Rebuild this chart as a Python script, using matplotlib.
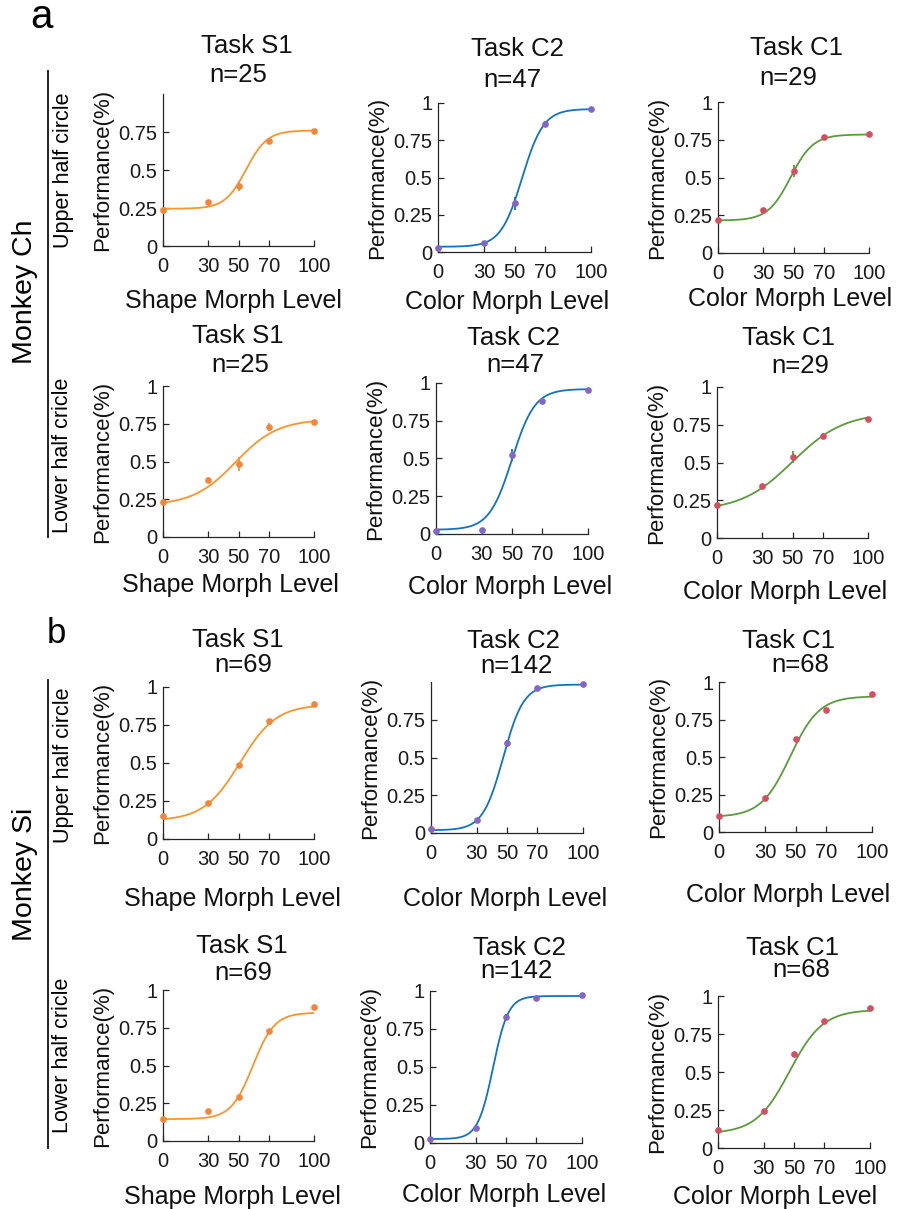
import numpy as np
import matplotlib
matplotlib.use('Agg')
import matplotlib.pyplot as plt
from matplotlib.lines import Line2D

plt.rcParams['font.family'] = ['Liberation Sans', 'DejaVu Sans']

# ---------------- data ----------------
levels = [0, 30, 50, 70, 100]
xtick_vals = [0, 30, 50, 70, 100]
xtick_labels = ['0', '30', '50', '70', '100']
ytick_vals = [0, 0.25, 0.5, 0.75, 1]
ytick_labels = ['0', '0.25', '0.5', '0.75', '1']

# Monkey Ch, upper half circle
ch_up_s1 = [0.235, 0.29, 0.395, 0.69, 0.757]
ch_up_s1_err = [0.008, 0.012, 0.035, 0.012, 0.008]
ch_up_s1_fit = [0.245, 0.76, 55, 7]          # lower, upper, threshold, width
ch_up_c2 = [0.027, 0.06, 0.327, 0.862, 0.958]
ch_up_c2_err = [0.005, 0.008, 0.045, 0.02, 0.005]
ch_up_c2_fit = [0.035, 0.96, 55, 7]
ch_up_c1 = [0.216, 0.285, 0.545, 0.77, 0.786]
ch_up_c1_err = [0.008, 0.012, 0.04, 0.01, 0.006]
ch_up_c1_fit = [0.215, 0.785, 48, 7.5]
# Monkey Ch, lower half circle
ch_lo_s1 = [0.232, 0.376, 0.482, 0.73, 0.763]
ch_lo_s1_err = [0.006, 0.02, 0.045, 0.025, 0.008]
ch_lo_s1_fit = [0.21, 0.78, 48, 14]
ch_lo_c2 = [0.022, 0.027, 0.524, 0.878, 0.951]
ch_lo_c2_err = [0.004, 0.004, 0.04, 0.02, 0.006]
ch_lo_c2_fit = [0.028, 0.96, 50, 7.5]
ch_lo_c1 = [0.22, 0.347, 0.538, 0.675, 0.787]
ch_lo_c1_err = [0.008, 0.01, 0.04, 0.02, 0.006]
ch_lo_c1_fit = [0.18, 0.83, 50, 17]
# Monkey Si, upper half circle
si_up_s1 = [0.154, 0.24, 0.484, 0.778, 0.888]
si_up_s1_err = [0.006, 0.008, 0.015, 0.01, 0.008]
si_up_s1_fit = [0.12, 0.885, 51, 12]
si_up_c2 = [0.026, 0.088, 0.596, 0.96, 0.987]
si_up_c2_err = [0.004, 0.008, 0.02, 0.006, 0.004]
si_up_c2_fit = [0.018, 0.983, 47.5, 6.7]
si_up_c1 = [0.11, 0.23, 0.617, 0.816, 0.922]
si_up_c1_err = [0.006, 0.008, 0.015, 0.01, 0.008]
si_up_c1_fit = [0.1, 0.905, 46.5, 9.5]
# Monkey Si, lower half circle
si_lo_s1 = [0.148, 0.197, 0.292, 0.728, 0.889]
si_lo_s1_err = [0.006, 0.008, 0.015, 0.01, 0.006]
si_lo_s1_fit = [0.145, 0.85, 59.5, 7.2]
si_lo_c2 = [0.026, 0.098, 0.83, 0.956, 0.974]
si_lo_c2_err = [0.004, 0.01, 0.02, 0.006, 0.004]
si_lo_c2_fit = [0.026, 0.967, 41.5, 5]
si_lo_c1 = [0.12, 0.245, 0.617, 0.836, 0.919]
si_lo_c1_err = [0.006, 0.008, 0.012, 0.01, 0.006]
si_lo_c1_fit = [0.095, 0.91, 47, 11]

tasks = ['Task S1', 'Task C2', 'Task C1']
ch_counts = ['n=25', 'n=47', 'n=29']
si_counts = ['n=69', 'n=142', 'n=68']
xlabels = ['Shape Morph Level', 'Color Morph Level', 'Color Morph Level']

panels = [
    (ch_up_s1, ch_up_s1_err, ch_up_s1_fit, 0, ch_counts[0], True),
    (ch_up_c2, ch_up_c2_err, ch_up_c2_fit, 1, ch_counts[1], False),
    (ch_up_c1, ch_up_c1_err, ch_up_c1_fit, 2, ch_counts[2], False),
    (ch_lo_s1, ch_lo_s1_err, ch_lo_s1_fit, 0, ch_counts[0], False),
    (ch_lo_c2, ch_lo_c2_err, ch_lo_c2_fit, 1, ch_counts[1], False),
    (ch_lo_c1, ch_lo_c1_err, ch_lo_c1_fit, 2, ch_counts[2], False),
    (si_up_s1, si_up_s1_err, si_up_s1_fit, 0, si_counts[0], False),
    (si_up_c2, si_up_c2_err, si_up_c2_fit, 1, si_counts[1], True),
    (si_up_c1, si_up_c1_err, si_up_c1_fit, 2, si_counts[2], False),
    (si_lo_s1, si_lo_s1_err, si_lo_s1_fit, 0, si_counts[0], False),
    (si_lo_c2, si_lo_c2_err, si_lo_c2_fit, 1, si_counts[1], False),
    (si_lo_c1, si_lo_c1_err, si_lo_c1_fit, 2, si_counts[2], False),
]

# ---------------- styles / layout ----------------
line_colors = ['#F7962F', '#1273C2', '#5B9B3C']
point_colors = ['#F2873A', '#8366C5', '#D64E62']
axis_color = '#262626'

W, H = 899, 1209
# axis origin x, x=100 x, y=0 y, y=1 y   (pixels)
axes_px = [
    (163, 314, 246, 94), (438, 591, 252, 103), (718, 869, 253, 102),
    (163, 314, 537, 386), (436, 588, 534, 383), (717, 868, 538, 387),
    (163, 314, 839, 687), (431, 583, 833, 682), (719, 872, 832, 682),
    (163, 314, 1141, 990), (430, 582, 1143, 991), (718, 870, 1148, 996),
]
# (task x, task baseline), (n x, n baseline)
title_px = [
    ((247, 53), (238, 82)), ((517, 56), (512, 87)), ((796, 55), (788, 85)),
    ((238, 343), (240, 372)), ((513, 345), (515, 372)), ((788, 345), (800, 373)),
    ((238, 647), (243, 672)), ((513, 648), (516, 673)), ((788, 648), (800, 672)),
    ((242, 953), (243, 980)), ((519, 955), (516, 978)), ((792, 955), (801, 977)),
]
# xlabel centre x, top y
xlabel_px = [
    (233, 289), (507, 290), (790, 287),
    (230, 573), (510, 575), (785, 580),
    (232, 887), (505, 887), (788, 883),
    (232, 1185), (504, 1183), (775, 1185),
]

fig = plt.figure(figsize=(W / 100, H / 100), dpi=100)
xs = np.linspace(0, 100, 401)

for i, (vals, errs, fit, col, ntext, no_top_label) in enumerate(panels):
    x0, x1, y0, y1 = axes_px[i]
    ax = fig.add_axes([x0 / W, 1 - y0 / H, (x1 - x0) / W, (y0 - y1) / H])
    lo, hi, thr, wid = fit
    curve = lo + (hi - lo) / (1 + np.exp(-(xs - thr) / wid))
    ax.plot(xs, curve, color=line_colors[col], lw=1.3, zorder=2)
    ax.errorbar(levels, vals, yerr=errs, fmt='none', ecolor=line_colors[col],
                elinewidth=1.3, capsize=0, zorder=3, clip_on=False)
    ax.plot(levels, vals, 'o', ms=3.8, color=point_colors[col],
            mec=point_colors[col], zorder=4, clip_on=False)
    ax.set_xlim(0, 100)
    ax.set_ylim(0, 1)
    ax.set_xticks(xtick_vals)
    ax.set_xticklabels(xtick_labels)
    if no_top_label:
        ax.set_yticks(ytick_vals[:-1])
        ax.set_yticklabels(ytick_labels[:-1])
    else:
        ax.set_yticks(ytick_vals)
        ax.set_yticklabels(ytick_labels)
    for s in ['top', 'right']:
        ax.spines[s].set_visible(False)
    for s in ['left', 'bottom']:
        ax.spines[s].set_color(axis_color)
        ax.spines[s].set_linewidth(0.9)
    ax.tick_params(axis='both', direction='in', length=4, width=0.9,
                   colors=axis_color, labelsize=14.5, labelcolor='#1a1a1a')
    ax.tick_params(axis='x', pad=8)
    ax.tick_params(axis='y', pad=4)
    ax.set_xlabel(xlabels[col], fontsize=18, color='#111111')
    xc, xt = xlabel_px[i]
    ax.xaxis.set_label_coords((xc - x0) / (x1 - x0), -(xt - y0) / (y0 - y1))
    ax.set_ylabel('Performance(%)', fontsize=16, color='#111111')
    ax.yaxis.set_label_coords(-50 / (x1 - x0), 0.5)
    (tx, ty), (nx, ny) = title_px[i]
    fig.text(tx / W, 1 - ty / H, tasks[col], fontsize=18.5, ha='center',
             va='baseline', color='#111111')
    fig.text(nx / W, 1 - ny / H, ntext, fontsize=18.5, ha='center',
             va='baseline', color='#111111')

# row labels and group brackets
def ftext(x, y, s, **kw):
    fig.text(x / W, 1 - y / H, s, **kw)

ftext(42, 28, 'a', fontsize=29, ha='center', va='baseline')
ftext(56, 643, 'b', fontsize=25, ha='center', va='baseline')
ftext(25, 292, 'Monkey Ch', fontsize=20.5, rotation=90, ha='center', va='center')
ftext(25, 874, 'Monkey Si', fontsize=20.5, rotation=90, ha='center', va='center')
ftext(63, 170, 'Upper half circle', fontsize=15.5, rotation=90, ha='center', va='center')
ftext(62, 455, 'Lower half cricle', fontsize=15.5, rotation=90, ha='center', va='center')
ftext(63, 765, 'Upper half circle', fontsize=15.5, rotation=90, ha='center', va='center')
ftext(62, 1055, 'Lower half cricle', fontsize=15.5, rotation=90, ha='center', va='center')

for (ya, yb) in [(71, 537), (680, 1148)]:
    fig.add_artist(Line2D([48 / W, 48 / W], [1 - ya / H, 1 - yb / H],
                          color='#111111', lw=1.3))

fig.savefig('out.png', dpi=100)
